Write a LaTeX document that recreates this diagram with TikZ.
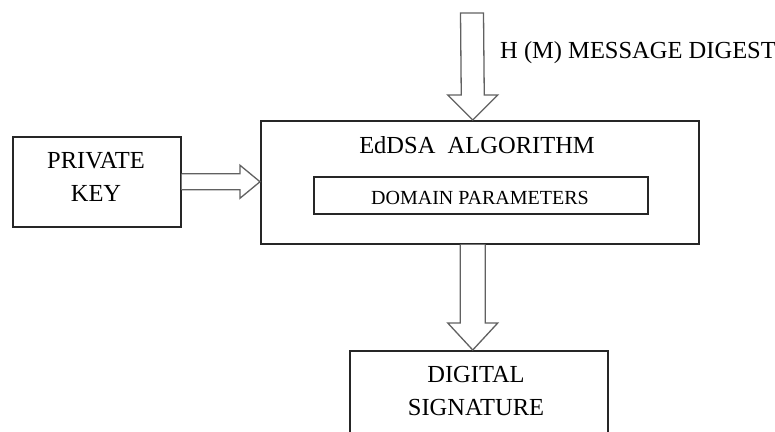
\documentclass[tikz,border=0pt]{standalone}
\usepackage{fontspec}
\setmainfont{Liberation Serif}
\usetikzlibrary{calc}
\begin{document}
\begin{tikzpicture}[x=1pt,y=-1pt,
  box/.style={draw=black!85, line width=1.5pt, inner sep=0pt, anchor=north west},
  hollow/.style={draw=black!62, line width=1.3pt, fill=white, line join=miter},
  bigtext/.style={inner sep=0pt, anchor=base, align=center, font=\fontsize{24.5}{33}\selectfont},
  smalltext/.style={inner sep=0pt, anchor=base, font=\fontsize{20}{24}\selectfont}]
\clip (0,0) rectangle (775,431);

% boxes
\node[box, minimum width=168pt, minimum height=90pt] (pk) at (12,136) {};
\node[box, minimum width=438pt, minimum height=123pt] (main) at (260,120) {};
\node[box, minimum width=334pt, minimum height=37pt] (dom) at (313,176) {};
\node[box, minimum width=258pt, minimum height=100pt] (sig) at (349,350) {};

% labels (a two-line label sits on the baseline of its last line)
\node[bigtext] (pklabel) at (96,201) {PRIVATE\\KEY};
\node[bigtext] (mainlabel) at (477,153) {EdDSA\ \ ALGORITHM};
\node[smalltext] (domlabel) at (480,204) {DOMAIN PARAMETERS};
\node[bigtext] (siglabel) at (476,415) {DIGITAL\\SIGNATURE};
\node[bigtext, anchor=base west] (hmlabel) at (500,58) {H (M) MESSAGE DIGEST};

% arrow endpoints
\coordinate (hin)  at (472,13);
\coordinate (htip) at ([xshift=-7pt]main.north);
\coordinate (kout) at (pk.east);
\coordinate (ktip) at (main.west |- pk.east);
\coordinate (sout) at ([xshift=-7pt]main.south);
\coordinate (stip) at (sout |- sig.north);

% message digest into the algorithm
\draw[hollow] ($(hin)+(-11.5,0)$) -- ($(htip)+(-11.5,-25)$) -- ($(htip)+(-25,-25)$)
  -- (htip) -- ($(htip)+(25,-25)$) -- ($(htip)+(11.5,-25)$) -- ($(hin)+(11.5,0)$) -- cycle;

% private key into the algorithm
\draw[hollow] ($(kout)+(0,-8)$) -- ($(ktip)+(-20,-8)$) -- ($(ktip)+(-20,-16.5)$)
  -- (ktip) -- ($(ktip)+(-20,16.5)$) -- ($(ktip)+(-20,8)$) -- ($(kout)+(0,8)$);

% algorithm output to the signature
\draw[hollow] ($(sout)+(-12.5,0)$) -- ($(stip)+(-12.5,-27)$) -- ($(stip)+(-25,-27)$)
  -- (stip) -- ($(stip)+(25,-27)$) -- ($(stip)+(12.5,-27)$) -- ($(sout)+(12.5,0)$);
\end{tikzpicture}
\end{document}
